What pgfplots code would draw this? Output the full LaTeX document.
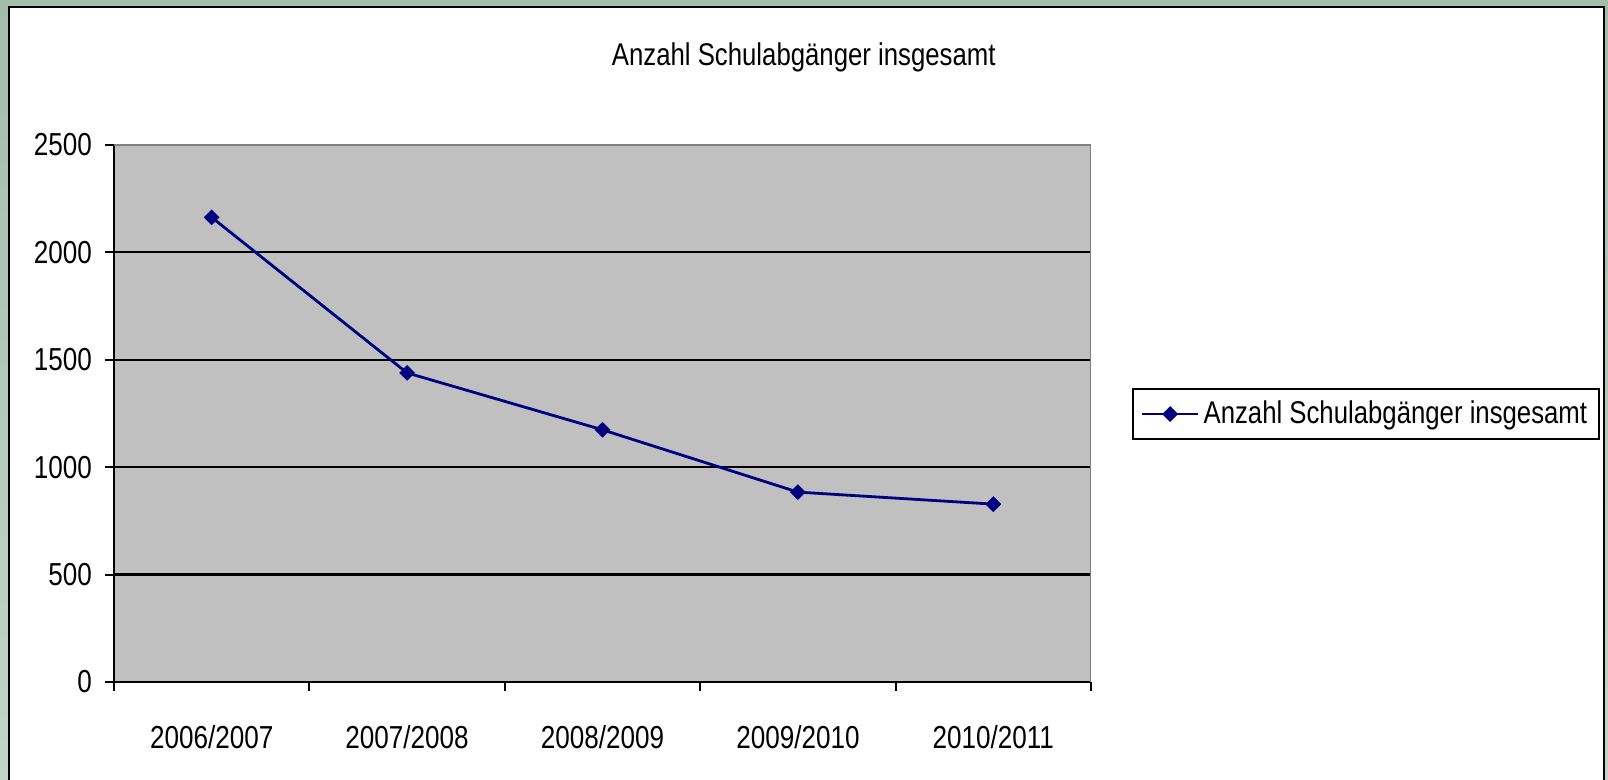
\documentclass[border=0pt]{standalone}
\usepackage{fontspec}
\setmainfont{Liberation Sans}[FakeStretch=0.82]
\usepackage{pgfplots}
\pgfplotsset{compat=1.18}
\definecolor{frameA}{HTML}{A3BDAA}
\definecolor{frameB}{HTML}{C2D5C8}
\definecolor{plotbg}{HTML}{C0C0C0}
\definecolor{navy}{HTML}{000080}
\definecolor{bordergray}{HTML}{808080}
\begin{document}
\begin{tikzpicture}
\clip (0pt,0pt) rectangle (804pt,390pt);
\useasboundingbox (0pt,0pt) rectangle (804pt,390pt);
\shade[top color=frameA, bottom color=frameB] (0pt,0pt) rectangle (804pt,390pt);
\draw[fill=white, draw=black, line width=1.4pt] (4.5pt,-10pt) rectangle (802pt,386.5pt);
\begin{axis}[
  at={(57pt,49pt)}, anchor=south west,
  scale only axis, width=488.5pt, height=268.5pt,
  xmin=-0.5, xmax=4.5, ymin=0, ymax=2500,
  xtick={0,1,2,3,4},
  xticklabels={2006/2007,2007/2008,2008/2009,2009/2010,2010/2011},
  minor xtick={-0.5,0.5,1.5,2.5,3.5,4.5},
  ytick={0,500,1000,1500,2000,2500},
  axis x line*=bottom, axis y line*=left,
  axis line style={black, line width=1.1pt, -},
  tick align=outside,
  major tick length=4.5pt, minor tick length=4.5pt,
  major x tick style={draw=none},
  minor x tick style={black, line width=1pt},
  y tick style={black, line width=1pt},
  ymajorgrids, major grid style={black, line width=1.1pt},
  axis background/.style={fill=plotbg},
  /pgf/number format/assume math mode=true,
  /pgf/number format/1000 sep={},
  ticklabel style={font=\fontsize{15.9}{18}\selectfont},
  xticklabel style={yshift=-13.5pt},
  yticklabel style={xshift=-3pt},
  title={Anzahl Schulabgänger insgesamt},
  title style={at={(rel axis cs:0.706,1.14)}, anchor=center, font=\fontsize{15.7}{18}\selectfont},
  legend style={at={(rel axis cs:1.042,0.499)}, anchor=west, draw=black, line width=0.75pt,
    font=\fontsize{15.7}{18}\selectfont, inner xsep=4pt, inner ysep=4pt},
  legend image code/.code={\draw[mark repeat=2, mark phase=2] plot coordinates {(0pt,0pt) (14pt,0pt) (28pt,0pt)};},
]
\addplot[navy, line width=1.4pt, mark=square*, mark size=2.5pt, mark options={rotate=45, fill=navy, draw=navy, line width=0.6pt}]
  coordinates {(0,2163) (1,1439) (2,1174) (3,884) (4,828)};
\addlegendentry{Anzahl Schulabgänger insgesamt}
\draw[bordergray, line width=1.1pt] (rel axis cs:0,1) -- (rel axis cs:1,1) -- (rel axis cs:1,0);
\end{axis}
\end{tikzpicture}
\end{document}
